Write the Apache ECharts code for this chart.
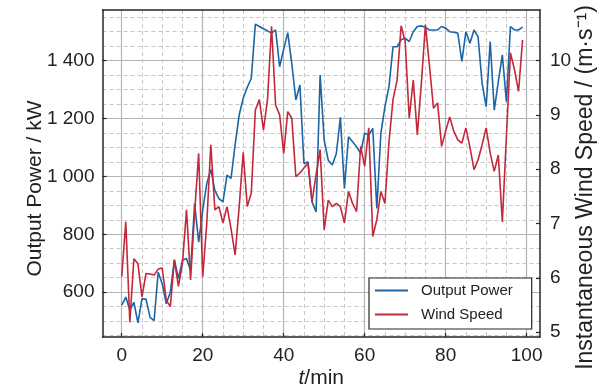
<!DOCTYPE html>
<html><head><meta charset="utf-8">
<script src="https://cdn.jsdelivr.net/npm/echarts@6/dist/echarts.min.js"></script>
<style>html,body{margin:0;padding:0;background:#fff}#c{width:603px;height:388px}</style>
</head><body><div id="c"></div>
<script>
const minutes = [0,1,2,3,4,5,6,7,8,9,10,11,12,13,14,15,16,17,18,19,20,21,22,23,24,25,26,27,28,29,30,31,32,33,34,35,36,37,38,39,40,41,42,43,44,45,46,47,48,49,50,51,52,53,54,55,56,57,58,59,60,61,62,63,64,65,66,67,68,69,70,71,72,73,74,75,76,77,78,79,80,81,82,83,84,85,86,87,88,89,90,91,92,93,94,95,96,97,98,99];
const outputPower = [555,583,538,565,494,577,576,513,502,669,629,560,600,712,647,710,716,675,906,773,883,975,1024,952,923,912,1004,993,1110,1212,1270,1308,1339,1526,1518,1510,1503,1495,1506,1379,1440,1497,1390,1264,1316,1045,1050,912,877,1350,1125,1056,1039,1079,1204,958,1137,1120,1102,1080,1149,1143,1166,889,1149,1241,1310,1448,1448,1472,1478,1466,1500,1518,1520,1515,1506,1506,1506,1518,1512,1500,1498,1495,1397,1500,1460,1506,1483,1322,1241,1466,1229,1327,1420,1258,1518,1506,1506,1516];
const windSpeed = [6.02,7.03,5.18,6.35,6.26,5.65,6.08,6.07,6.05,6.16,6.18,5.59,5.47,6.33,5.84,6.27,7.25,5.96,7.2,8.29,6.02,7.0,8.45,7.25,7.31,7.01,7.31,6.9,6.42,7.3,8.31,7.31,7.56,9.09,9.28,8.72,9.28,10.63,9.18,9.0,8.29,9.06,8.94,7.86,7.93,8.02,8.11,7.40,7.9,8.36,6.88,7.43,7.31,7.37,7.31,7.01,7.59,7.37,7.22,8.42,8.05,8.76,6.76,7.07,7.59,7.37,8.5,9.28,9.64,10.64,10.35,8.94,9.64,8.63,9.58,10.66,9.9,9.12,9.22,8.42,8.7,8.96,8.7,8.54,8.48,8.76,8.4,7.99,8.17,8.45,8.76,8.3,7.96,8.26,7.03,8.6,10.14,9.83,9.43,10.38];
const xTicks = [0,20,40,60,80,100];
const xMinorTicks = [5,10,15,25,30,35,45,50,55,65,70,75,85,90,95];
const powerTicks = [600,800,1000,1200,1400];
const powerMinorTicks = [450,500,550,650,700,750,850,900,950,1050,1100,1150,1250,1300,1350,1450,1500,1550];
const speedTicks = [5,6,7,8,9,10];
const seriesNames = ['Output Power','Wind Speed'];

const FONT = 'Liberation Sans, Arial, sans-serif';
const AX = '#262626';
const BLUE = '#1b65a6';
const RED = '#c3283a';
const X_MIN = -4.75, X_MAX = 103.3;
const P_MIN = 445, P_MAX = 1575;
const S_MIN = 4.91, S_MAX = 10.93;

function fmtPower(v){
  if (v >= 1000) { const r = String(v % 1000).padStart(3,'0'); return Math.floor(v/1000) + ' ' + r; }
  return String(v);
}

const chart = echarts.init(document.getElementById('c'), null, {renderer:'canvas'});
chart.setOption({
  animation: false,
  backgroundColor: '#fff',
  textStyle: {fontFamily: FONT},
  grid: {left: 102.5, right: 63, top: 10, bottom: 51, containLabel: false, outerBoundsMode: 'none'},
  legend: {
    orient: 'vertical', left: 369, top: 278,
    data: seriesNames,
    itemWidth: 33, itemHeight: 14, itemGap: 9,
    padding: [5, 19, 7, 5],
    borderColor: AX, borderWidth: 1.2, backgroundColor: '#fff',
    itemStyle: {opacity: 0},
    textStyle: {fontFamily: FONT, fontSize: 15, color: '#222', padding: [0,0,0,8]}
  },
  xAxis: [
    {type:'value', min:X_MIN, max:X_MAX, position:'bottom',
     axisLine:{show:true, onZero:false, lineStyle:{color:AX, width:1.5}},
     axisTick:{show:true, inside:true, length:4, customValues:xTicks, lineStyle:{color:AX, width:1.2}},
     axisLabel:{customValues:xTicks, fontSize:19, color:'#222', margin:9, fontFamily:FONT},
     splitLine:{show:true, lineStyle:{color:'#b3b3b3', width:1.2, type:'solid'}},
     name:'{i|t}/min', nameLocation:'middle', nameGap:31, nameMoveOverlap:false,
     nameTextStyle:{fontSize:21, color:'#222', fontFamily:FONT, rich:{i:{fontStyle:'italic', fontSize:21, color:'#222', fontFamily:FONT}}}
    },
    {type:'value', min:X_MIN, max:X_MAX, position:'top',
     axisLine:{show:true, onZero:false, lineStyle:{color:AX, width:1.5}},
     axisTick:{show:false, customValues:xMinorTicks},
     axisLabel:{show:false},
     splitLine:{show:true, lineStyle:{color:'#c8c8c8', width:1, type:[4,3]}}
    }
  ],
  yAxis: [
    {type:'value', min:P_MIN, max:P_MAX, position:'left',
     axisLine:{show:true, onZero:false, lineStyle:{color:AX, width:1.5}},
     axisTick:{show:true, inside:true, length:4, customValues:powerTicks, lineStyle:{color:AX, width:1.2}},
     axisLabel:{customValues:powerTicks, fontSize:19, color:'#222', margin:8, fontFamily:FONT, formatter:fmtPower},
     splitLine:{show:true, lineStyle:{color:'#b3b3b3', width:1.2, type:'solid'}},
     name:'Output Power / kW', nameLocation:'middle', nameGap:57, nameMoveOverlap:false,
     nameTextStyle:{fontSize:21, color:'#222', fontFamily:FONT, padding:[0,30,0,0]}
    },
    {type:'value', min:P_MIN, max:P_MAX, position:'left',
     axisLine:{show:false, onZero:false},
     axisTick:{show:false, customValues:powerMinorTicks},
     axisLabel:{show:false},
     splitLine:{show:true, lineStyle:{color:'#c8c8c8', width:1, type:[4,3]}}
    },
    {type:'value', min:S_MIN, max:S_MAX, position:'right',
     axisLine:{show:true, onZero:false, lineStyle:{color:AX, width:1.5}},
     axisTick:{show:true, inside:true, length:4, customValues:speedTicks, lineStyle:{color:AX, width:1.2}},
     axisLabel:{customValues:speedTicks, fontSize:19, color:'#222', margin:10, fontFamily:FONT},
     splitLine:{show:false},
     name:'Instantaneous Wind Speed / (m·s⁻¹)', nameLocation:'middle', nameGap:34, nameMoveOverlap:false,
     nameTextStyle:{fontSize:23, color:'#222', fontFamily:FONT, padding:[0,28,0,0]}
    }
  ],
  series: [
    {name:seriesNames[0], type:'line', xAxisIndex:0, yAxisIndex:0, symbol:'none',
     lineStyle:{color:BLUE, width:1.6}, itemStyle:{color:BLUE}, z:3,
     data: minutes.map((t,i)=>[t, outputPower[i]])},
    {name:seriesNames[1], type:'line', xAxisIndex:0, yAxisIndex:2, symbol:'none',
     lineStyle:{color:RED, width:1.6}, itemStyle:{color:RED}, z:4,
     data: minutes.map((t,i)=>[t, windSpeed[i]])}
  ]
});
</script></body></html>
